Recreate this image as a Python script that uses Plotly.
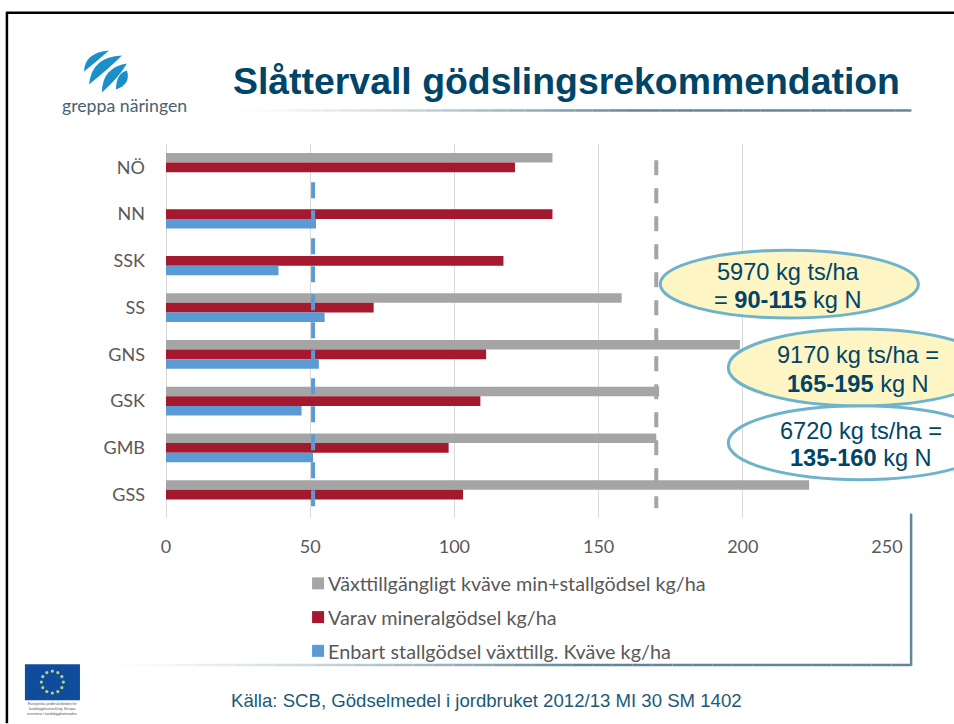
import math
import plotly.graph_objects as go

categories = ["NÖ", "NN", "SSK", "SS", "GNS", "GSK", "GMB", "GSS"]
total_n = [134, None, None, 158, 199, 171, 170, 223]
mineral_n = [121, 134, 117, 72, 111, 109, 98, 103]
manure_n = [None, 52, 39, 55, 53, 47, 51, None]
series_names = [
    "Växttillgängligt kväve min+stallgödsel kg/ha",
    "Varav mineralgödsel kg/ha",
    "Enbart stallgödsel växttillg. Kväve kg/ha",
]
x_ticks = [0, 50, 100, 150, 200, 250]
manure_reference = 51
total_reference = 170

W, H = 954, 724
L, R, T, B = 166, 886.6, 143.6, 518.4
INK = "#004468"
GREY, RED, BLUE = "#a5a5a5", "#a5192f", "#5b9bd5"


def px(x):
    return (x - L) / (R - L)


def py(y):
    return (B - y) / (B - T)


fig = go.Figure()
for name, vals, col in zip(series_names, [total_n, mineral_n, manure_n], [GREY, RED, BLUE]):
    fig.add_bar(y=categories, x=vals, name=name, orientation="h", marker_color=col,
                marker_line_width=0, legendgroup=name)

fig.add_scatter(x=[total_reference, total_reference], y=[-0.15, 7.29], yaxis="y2", mode="lines",
                line=dict(color=GREY, width=4, dash="15px,13px"), showlegend=False, hoverinfo="skip")
fig.add_scatter(x=[manure_reference, manure_reference], y=[0.32, 7.27], yaxis="y2", mode="lines",
                line=dict(color=BLUE, width=4, dash="16px,12px"), showlegend=False, hoverinfo="skip")

shapes = []


def line(x0, y0, x1, y1, color, width):
    shapes.append(dict(type="line", xref="paper", yref="paper", x0=px(x0), x1=px(x1), y0=py(y0), y1=py(y1),
                       line=dict(color=color, width=width)))


def mix(t):
    a, b = (255, 255, 255), (95, 135, 151)
    return "rgb(%d,%d,%d)" % tuple(round(a[i] + (b[i] - a[i]) * t) for i in range(3))


def fade(x0, x1, y, solid_from=0.6):
    n = 40
    for i in range(n):
        t = (i + 1) / n
        line(x0 + (x1 - x0) * i / n, y, x0 + (x1 - x0) * (i + 1) / n, y, mix(min(1, t / solid_from) ** 1.3), 2.5)


def path(d_pts, color):
    d = ""
    for cmd, *pts in d_pts:
        d += cmd + " ".join("%.5f,%.5f" % (px(a), py(b)) for a, b in pts) + " "
    shapes.append(dict(type="path", xref="paper", yref="paper", path=d + "Z", fillcolor=color,
                       line=dict(width=0)))


# slide frame
line(7, 12, 7, H, "#000000", 2.5)
line(6, 12, W, 12, "#000000", 2.5)
fade(240, 911, 110)
fade(115, 911, 665.7)
line(910.7, 514, 910.7, 666.5, "#5f8797", 2.5)

# logo swooshes
LOGO = "#1b8fc9"
path([("M", (84, 71)), ("Q", (85, 52), (109, 50)), ("Q", (98, 60), (84, 71))], LOGO)
path([("M", (89, 84)), ("Q", (92, 56), (122, 55)), ("Q", (109, 68), (89, 84))], LOGO)
path([("M", (102, 92)), ("Q", (102, 67), (127, 63)), ("Q", (118, 78), (102, 92))], LOGO)
path([("M", (116, 89)), ("Q", (116, 73), (127, 70)), ("Q", (131, 84), (116, 89))], LOGO)

# EU flag
shapes.append(dict(type="rect", xref="paper", yref="paper", x0=px(25), x1=px(80), y0=py(701), y1=py(665),
                   fillcolor="#0f4c9c", line=dict(width=0)))
for i in range(12):
    a = math.radians(30 * i)
    cx, cy = 52.4 + 11 * math.cos(a), 682.8 + 11 * math.sin(a)
    shapes.append(dict(type="circle", xref="paper", yref="paper", x0=px(cx - 1.6), x1=px(cx + 1.6),
                       y0=py(cy + 1.6), y1=py(cy - 1.6), fillcolor="#b9d47a", line=dict(width=0)))


def ellipse(x0, y0, x1, y1, fill):
    shapes.append(dict(type="circle", xref="paper", yref="paper", x0=px(x0), x1=px(x1), y0=py(y1), y1=py(y0),
                       fillcolor=fill, line=dict(color="#6fb3cb", width=3)))


ellipse(660, 250, 918, 318, "#fdf5c4")
ellipse(728, 406, 992, 480, "rgba(0,0,0,0)")
ellipse(728, 329, 992, 406, "#fdf5c4")


def note(x, y, text, size, color=INK, family="Liberation Sans"):
    return dict(xref="paper", yref="paper", x=px(x), y=py(y), text=text, showarrow=False, xanchor="center",
                yanchor="middle", align="center", font=dict(family=family, size=size, color=color))


annotations = [
    note(566, 80, "<b>Slåttervall gödslingsrekommendation</b>", 37.4),
    note(125, 105, "greppa näringen", 17.7, "#4a6272", "Lato"),
    note(788, 272, "5970 kg ts/ha", 23.6),
    note(788, 300, "= <b>90-115</b> kg N", 23.6),
    note(858, 355, "9170 kg ts/ha =", 23.6),
    note(858, 384, "<b>165-195</b> kg N", 23.6),
    note(861, 431, "6720 kg ts/ha =", 23.6),
    note(861, 458, "<b>135-160</b> kg N", 23.6),
    note(486, 701, "Källa: SCB, Gödselmedel i jordbruket 2012/13 MI 30 SM 1402", 18.6, "#1a5a78"),
    note(52.5, 705, "Europeiska jordbruksfonden för", 3.5, "#555555"),
    note(52.5, 710, "landsbygdsutveckling: Europa", 3.5, "#555555"),
    note(52.5, 715, "investerar i landsbygdsområden", 3.5, "#555555"),
]

fig.update_layout(
    width=W, height=H, autosize=False,
    margin=dict(l=L, r=W - R, t=T, b=H - B, autoexpand=False),
    paper_bgcolor="white", plot_bgcolor="white",
    barmode="group", bargap=0.38, bargroupgap=0,
    font=dict(family="Lato", size=18, color="#595959"),
    xaxis=dict(range=[0, 250], tickvals=x_ticks, gridcolor="#d9d9d9", gridwidth=1, zeroline=True,
               zerolinecolor="#d9d9d9", zerolinewidth=1, showline=False, ticks="", ticklabelstandoff=16),
    yaxis=dict(type="category", categoryorder="array", categoryarray=categories, autorange="reversed",
               showgrid=False, zeroline=False, showline=False, ticks="", ticklabelstandoff=20),
    yaxis2=dict(overlaying="y", range=[7.5, -0.5], visible=False),
    legend=dict(x=px(298), y=py(564.5), xanchor="left", yanchor="top", traceorder="grouped",
                tracegroupgap=5, bgcolor="rgba(0,0,0,0)", font=dict(family="Lato", size=19.8, color="#595959")),
    shapes=shapes, annotations=annotations,
)

fig.write_html(
    "out.html",
    config=dict(displayModeBar=False),
    post_script=(
        "document.body.style.margin='0';"
        "document.querySelectorAll('.legendtext').forEach(t=>t.setAttribute('x','30'));"
    ),
)
